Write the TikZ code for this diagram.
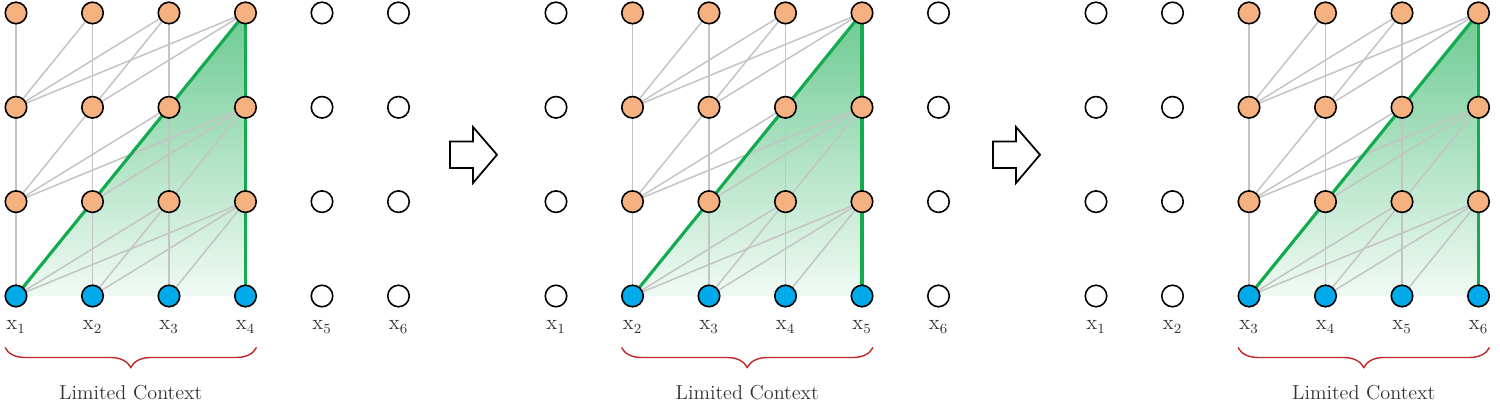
\documentclass[tikz,border=0pt]{standalone}
\usetikzlibrary{backgrounds,decorations.pathreplacing}

\definecolor{unitorange}{RGB}{245,178,128}
\definecolor{unitblue}{RGB}{0,170,235}
\definecolor{linkgray}{RGB}{196,196,196}
\definecolor{ctxgreen}{RGB}{20,170,80}
\definecolor{bracered}{RGB}{190,40,40}

\begin{document}
\begin{tikzpicture}
  [
    unit/.style={circle, draw=black, line width=0.9pt, minimum size=4.3mm, inner sep=0pt},
    hid/.style={unit, fill=unitorange},
    inp/.style={unit, fill=unitblue},
    off/.style={unit, fill=white},
    attn/.style={draw=linkgray, line width=0.85pt},
    ctx/.style={draw=ctxgreen, line width=1.8pt},
    lbl/.style={text=black!80, font=\fontsize{11.5}{13}\selectfont},
    brc/.style={draw=bracered, line width=0.8pt, decorate,
      decoration={brace, mirror, amplitude=0.4cm}},
    blockarrow/.style={draw=black, line width=1pt, line join=miter, fill=white}
  ]

  \useasboundingbox (0,0) rectangle (30,-8.12);

  % three windows of four tokens over x1..x6
  \foreach \pan in {0,1,2} {
    \pgfmathsetmacro{\dx}{10.8*\pan}
    \foreach \col in {1,...,6} {
      \pgfmathtruncatemacro{\on}{(\col>\pan) && (\col<\pan+5)}
      \foreach \row in {0,...,3} {
        \ifnum\on=1
          \ifnum\row=0 \def\kind{inp}\else\def\kind{hid}\fi
        \else
          \def\kind{off}
        \fi
        \node (n\pan-\col-\row) at (\dx+0.32+1.53*\col-1.53, -5.92+1.887*\row) [\kind] {};
      }
      \node (x\pan-\col) at (\dx+0.32+1.53*\col-1.53, -6.54) [lbl] {$\mathrm{x}_{\col}$};
    }
    \coordinate (bl\pan) at (0.10+12.33*\pan, -6.95);
    \coordinate (br\pan) at (5.13+12.33*\pan, -6.95);
    \draw [brc] (bl\pan) -- (br\pan);
    \node (ctx\pan) at (2.615+12.33*\pan, -7.86) [lbl] {Limited Context};
  }

  \begin{scope}[on background layer]
    \foreach \pan in {0,1,2} {
      \pgfmathtruncatemacro{\s}{\pan+1}
      \pgfmathtruncatemacro{\e}{\pan+4}
      \shade [top color=ctxgreen!62, bottom color=ctxgreen!6]
        (n\pan-\s-0.center) -- (n\pan-\e-3.center) -- (n\pan-\e-0.center) -- cycle;
      \foreach \row in {1,2,3} {
        \pgfmathtruncatemacro{\low}{\row-1}
        \foreach \j in {\s,...,\e} {
          \foreach \i in {\s,...,\j} {
            \draw [attn] (n\pan-\i-\low.center) -- (n\pan-\j-\row.center);
          }
        }
      }
      \draw [ctx] (n\pan-\s-0.center) -- (n\pan-\e-3.center);
      \draw [ctx] (n\pan-\e-0.center) -- (n\pan-\e-3.center);
    }
  \end{scope}

  % sliding arrows
  \foreach \a in {0,1} {
    \draw [blockarrow, xshift=\a*10.86cm]
      (9.0,-2.83) -- (9.46,-2.83) -- (9.46,-2.54) -- (9.94,-3.095)
      -- (9.46,-3.66) -- (9.46,-3.36) -- (9.0,-3.36) -- cycle;
  }
\end{tikzpicture}
\end{document}
